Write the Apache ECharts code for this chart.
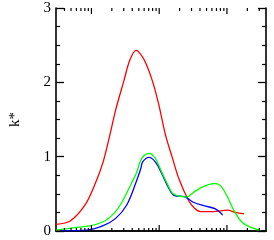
<!DOCTYPE html>
<html><head><meta charset="utf-8">
<script src="https://cdn.jsdelivr.net/npm/echarts@6/dist/echarts.min.js"></script>
<style>html,body{margin:0;padding:0;background:#fff}#c{width:274px;height:240px}</style>
</head><body><div id="c"></div>
<script>
var redX = [3.01, 4.87, 8.05, 11.4, 14.9, 18.7, 22.8, 29.9, 36.9, 45.7, 48.7, 60.3, 78.7, 97.5, 124, 157, 194, 268, 332, 411, 629, 1016, 1325, 1790];
var redY = [0.09, 0.135, 0.35, 0.64, 0.93, 1.29, 1.63, 2.01, 2.30, 2.43, 2.42, 2.30, 2.03, 1.72, 1.29, 0.98, 0.71, 0.42, 0.305, 0.26, 0.26, 0.28, 0.25, 0.23];
var greenX = [3.01, 5.71, 9.74, 15.7, 21.7, 28.3, 38.9, 46.1, 53.6, 60.4, 70.8, 87.5, 108, 134, 157, 194, 254, 332, 457, 664, 820, 1016, 1259, 1641, 2143, 3113];
var greenY = [0.013, 0.044, 0.071, 0.135, 0.24, 0.39, 0.64, 0.78, 0.955, 1.02, 1.045, 0.98, 0.80, 0.62, 0.51, 0.47, 0.46, 0.53, 0.60, 0.64, 0.60, 0.46, 0.28, 0.125, 0.058, 0.005];
var blueX = [3.54, 8.75, 14.9, 22.8, 33.2, 45.7, 53.6, 57.1, 70.8, 87.5, 108, 134, 166, 241, 314, 457, 664, 867];
var blueY = [0.005, 0.013, 0.071, 0.17, 0.35, 0.66, 0.84, 0.93, 0.99, 0.93, 0.78, 0.60, 0.48, 0.46, 0.39, 0.34, 0.30, 0.215];
var xMajorTicks = [10, 100, 1000];
var xMinorTicks = [4, 5, 6, 7, 8, 9, 20, 30, 40, 50, 60, 70, 80, 90, 200, 300, 400, 500, 600, 700, 800, 900, 2000, 3000];
var yTickLabels = ['0', '1', '2', '3'];
var yName = 'k*';

function pairs(xs, ys) { return xs.map(function (x, i) { return [x, ys[i]]; }); }
var tickData = xMajorTicks.map(function (v) { return [v, 1]; }).concat(xMinorTicks.map(function (v) { return [v, 0]; }));

var chart = echarts.init(document.getElementById('c'), null, {renderer: 'canvas'});
var axisLine = {show: true, lineStyle: {color: '#000', width: 1.6}};
var font = 'Liberation Serif';
chart.setOption({
  animation: false,
  grid: {left: 43, right: 8, top: 8, bottom: 9},
  xAxis: [
    {type: 'log', min: 3, max: 3770, axisLine: axisLine, axisTick: {show: false}, axisLabel: {show: false}, splitLine: {show: false}, minorTick: {show: false}},
    {type: 'log', position: 'top', min: 3, max: 3770, axisLine: axisLine, axisTick: {show: false}, axisLabel: {show: false}, splitLine: {show: false}}
  ],
  yAxis: [
    {type: 'value', min: 0, max: 3, interval: 1, name: yName, nameLocation: 'middle', nameGap: 33,
     nameTextStyle: {fontFamily: font, fontSize: 15, color: '#000'},
     axisLine: axisLine, axisTick: {show: true, inside: true, length: 8, lineStyle: {color: '#000', width: 1.3}},
     minorTick: {show: true, splitNumber: 4, length: 4, lineStyle: {color: '#000', width: 1.2}},
     axisLabel: {show: true, margin: 5, fontFamily: font, fontSize: 15, color: '#000', formatter: function (v) { return yTickLabels[Math.round(v)]; }},
     splitLine: {show: false}},
    {type: 'value', position: 'right', min: 0, max: 3, interval: 1,
     axisLine: axisLine, axisTick: {show: true, inside: true, length: 8, lineStyle: {color: '#000', width: 1.3}},
     minorTick: {show: true, splitNumber: 4, length: 4, lineStyle: {color: '#000', width: 1.2}},
     axisLabel: {show: false}, splitLine: {show: false}}
  ],
  series: [
    {type: 'custom', xAxisIndex: 0, yAxisIndex: 0, data: tickData, clip: false, z: 10,
     renderItem: function (params, api) {
       var v = api.value(0), major = api.value(1);
       var b = api.coord([v, 0]), t = api.coord([v, 3]);
       var len = major ? 6 : 3;
       var st = {stroke: '#000', lineWidth: 1.2};
       return {type: 'group', children: [
         {type: 'line', shape: {x1: b[0], y1: b[1], x2: b[0], y2: b[1] - len}, style: st},
         {type: 'line', shape: {x1: t[0], y1: t[1], x2: t[0], y2: t[1] + len}, style: st}
       ]};
     }},
    {type: 'line', name: 'red', data: pairs(redX, redY), showSymbol: false, smooth: 0.3, lineStyle: {color: '#ff0000', width: 1.3}, itemStyle: {color: '#ff0000'}},
    {type: 'line', name: 'blue', data: pairs(blueX, blueY), showSymbol: false, smooth: 0.35, lineStyle: {color: '#0000ff', width: 1.3}, itemStyle: {color: '#0000ff'}},
    {type: 'line', name: 'green', data: pairs(greenX, greenY), showSymbol: false, smooth: 0.35, lineStyle: {color: '#00ff00', width: 1.3}, itemStyle: {color: '#00ff00'}}
  ]
});
</script></body></html>
